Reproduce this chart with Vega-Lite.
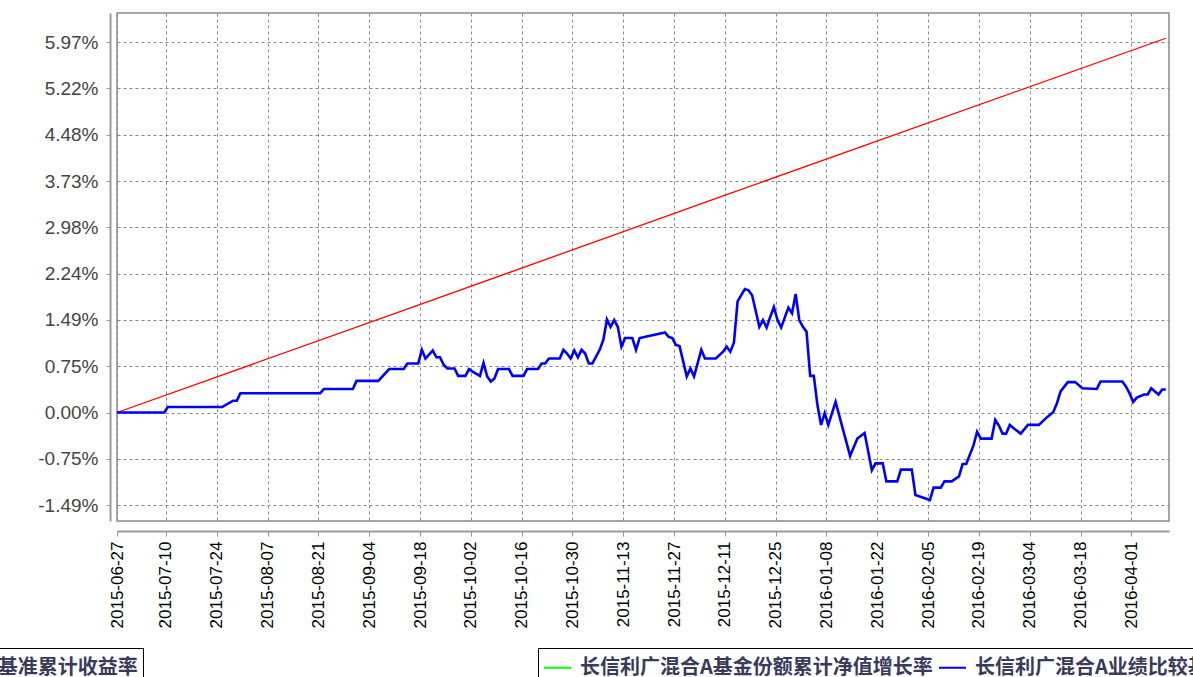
{
  "$schema": "https://vega.github.io/schema/vega-lite/v6.json",
  "autosize": "none",
  "width": 1052,
  "height": 508,
  "padding": {"left": 117, "top": 13, "right": 24, "bottom": 156},
  "background": "#ffffff",
  "data": {"values": [
    {"date": "2015-06-27", "series": "长信利广混合A基金份额累计净值增长率", "value": 0},
    {"date": "2015-07-10", "series": "长信利广混合A基金份额累计净值增长率", "value": 0},
    {"date": "2015-07-11", "series": "长信利广混合A基金份额累计净值增长率", "value": 0.0009},
    {"date": "2015-07-26", "series": "长信利广混合A基金份额累计净值增长率", "value": 0.0009},
    {"date": "2015-07-29", "series": "长信利广混合A基金份额累计净值增长率", "value": 0.0019},
    {"date": "2015-07-30", "series": "长信利广混合A基金份额累计净值增长率", "value": 0.0019},
    {"date": "2015-07-31", "series": "长信利广混合A基金份额累计净值增长率", "value": 0.0031},
    {"date": "2015-08-22", "series": "长信利广混合A基金份额累计净值增长率", "value": 0.0031},
    {"date": "2015-08-23", "series": "长信利广混合A基金份额累计净值增长率", "value": 0.0038},
    {"date": "2015-08-31", "series": "长信利广混合A基金份额累计净值增长率", "value": 0.0038},
    {"date": "2015-09-01", "series": "长信利广混合A基金份额累计净值增长率", "value": 0.0051},
    {"date": "2015-09-07", "series": "长信利广混合A基金份额累计净值增长率", "value": 0.0051},
    {"date": "2015-09-10", "series": "长信利广混合A基金份额累计净值增长率", "value": 0.0070},
    {"date": "2015-09-14", "series": "长信利广混合A基金份额累计净值增长率", "value": 0.0070},
    {"date": "2015-09-15", "series": "长信利广混合A基金份额累计净值增长率", "value": 0.0079},
    {"date": "2015-09-18", "series": "长信利广混合A基金份额累计净值增长率", "value": 0.0079},
    {"date": "2015-09-19", "series": "长信利广混合A基金份额累计净值增长率", "value": 0.0101},
    {"date": "2015-09-20", "series": "长信利广混合A基金份额累计净值增长率", "value": 0.0087},
    {"date": "2015-09-22", "series": "长信利广混合A基金份额累计净值增长率", "value": 0.0100},
    {"date": "2015-09-23", "series": "长信利广混合A基金份额累计净值增长率", "value": 0.0089},
    {"date": "2015-09-24", "series": "长信利广混合A基金份额累计净值增长率", "value": 0.0089},
    {"date": "2015-09-25", "series": "长信利广混合A基金份额累计净值增长率", "value": 0.0077},
    {"date": "2015-09-26", "series": "长信利广混合A基金份额累计净值增长率", "value": 0.0071},
    {"date": "2015-09-28", "series": "长信利广混合A基金份额累计净值增长率", "value": 0.0071},
    {"date": "2015-09-29", "series": "长信利广混合A基金份额累计净值增长率", "value": 0.0059},
    {"date": "2015-10-01", "series": "长信利广混合A基金份额累计净值增长率", "value": 0.0059},
    {"date": "2015-10-02", "series": "长信利广混合A基金份额累计净值增长率", "value": 0.0070},
    {"date": "2015-10-03", "series": "长信利广混合A基金份额累计净值增长率", "value": 0.0066},
    {"date": "2015-10-05", "series": "长信利广混合A基金份额累计净值增长率", "value": 0.0059},
    {"date": "2015-10-06", "series": "长信利广混合A基金份额累计净值增长率", "value": 0.0080},
    {"date": "2015-10-07", "series": "长信利广混合A基金份额累计净值增长率", "value": 0.0058},
    {"date": "2015-10-08", "series": "长信利广混合A基金份额累计净值增长率", "value": 0.0050},
    {"date": "2015-10-09", "series": "长信利广混合A基金份额累计净值增长率", "value": 0.0055},
    {"date": "2015-10-10", "series": "长信利广混合A基金份额累计净值增长率", "value": 0.0070},
    {"date": "2015-10-13", "series": "长信利广混合A基金份额累计净值增长率", "value": 0.0070},
    {"date": "2015-10-14", "series": "长信利广混合A基金份额累计净值增长率", "value": 0.0059},
    {"date": "2015-10-17", "series": "长信利广混合A基金份额累计净值增长率", "value": 0.0059},
    {"date": "2015-10-18", "series": "长信利广混合A基金份额累计净值增长率", "value": 0.0070},
    {"date": "2015-10-21", "series": "长信利广混合A基金份额累计净值增长率", "value": 0.0070},
    {"date": "2015-10-22", "series": "长信利广混合A基金份额累计净值增长率", "value": 0.0079},
    {"date": "2015-10-23", "series": "长信利广混合A基金份额累计净值增长率", "value": 0.0079},
    {"date": "2015-10-24", "series": "长信利广混合A基金份额累计净值增长率", "value": 0.0087},
    {"date": "2015-10-27", "series": "长信利广混合A基金份额累计净值增长率", "value": 0.0087},
    {"date": "2015-10-28", "series": "长信利广混合A基金份额累计净值增长率", "value": 0.0101},
    {"date": "2015-10-29", "series": "长信利广混合A基金份额累计净值增长率", "value": 0.0095},
    {"date": "2015-10-30", "series": "长信利广混合A基金份额累计净值增长率", "value": 0.0087},
    {"date": "2015-10-31", "series": "长信利广混合A基金份额累计净值增长率", "value": 0.0100},
    {"date": "2015-11-01", "series": "长信利广混合A基金份额累计净值增长率", "value": 0.0089},
    {"date": "2015-11-02", "series": "长信利广混合A基金份额累计净值增长率", "value": 0.0101},
    {"date": "2015-11-03", "series": "长信利广混合A基金份额累计净值增长率", "value": 0.0095},
    {"date": "2015-11-04", "series": "长信利广混合A基金份额累计净值增长率", "value": 0.0079},
    {"date": "2015-11-05", "series": "长信利广混合A基金份额累计净值增长率", "value": 0.0079},
    {"date": "2015-11-07", "series": "长信利广混合A基金份额累计净值增长率", "value": 0.0101},
    {"date": "2015-11-08", "series": "长信利广混合A基金份额累计净值增长率", "value": 0.0117},
    {"date": "2015-11-09", "series": "长信利广混合A基金份额累计净值增长率", "value": 0.0150},
    {"date": "2015-11-10", "series": "长信利广混合A基金份额累计净值增长率", "value": 0.0138},
    {"date": "2015-11-11", "series": "长信利广混合A基金份额累计净值增长率", "value": 0.0149},
    {"date": "2015-11-12", "series": "长信利广混合A基金份额累计净值增长率", "value": 0.0138},
    {"date": "2015-11-13", "series": "长信利广混合A基金份额累计净值增长率", "value": 0.0106},
    {"date": "2015-11-14", "series": "长信利广混合A基金份额累计净值增长率", "value": 0.0120},
    {"date": "2015-11-16", "series": "长信利广混合A基金份额累计净值增长率", "value": 0.0120},
    {"date": "2015-11-17", "series": "长信利广混合A基金份额累计净值增长率", "value": 0.0101},
    {"date": "2015-11-18", "series": "长信利广混合A基金份额累计净值增长率", "value": 0.0120},
    {"date": "2015-11-25", "series": "长信利广混合A基金份额累计净值增长率", "value": 0.0129},
    {"date": "2015-11-26", "series": "长信利广混合A基金份额累计净值增长率", "value": 0.0122},
    {"date": "2015-11-27", "series": "长信利广混合A基金份额累计净值增长率", "value": 0.0120},
    {"date": "2015-11-28", "series": "长信利广混合A基金份额累计净值增长率", "value": 0.0109},
    {"date": "2015-11-29", "series": "长信利广混合A基金份额累计净值增长率", "value": 0.0107},
    {"date": "2015-12-01", "series": "长信利广混合A基金份额累计净值增长率", "value": 0.0058},
    {"date": "2015-12-02", "series": "长信利广混合A基金份额累计净值增长率", "value": 0.0071},
    {"date": "2015-12-03", "series": "长信利广混合A基金份额累计净值增长率", "value": 0.0058},
    {"date": "2015-12-05", "series": "长信利广混合A基金份额累计净值增长率", "value": 0.0101},
    {"date": "2015-12-06", "series": "长信利广混合A基金份额累计净值增长率", "value": 0.0087},
    {"date": "2015-12-09", "series": "长信利广混合A基金份额累计净值增长率", "value": 0.0087},
    {"date": "2015-12-11", "series": "长信利广混合A基金份额累计净值增长率", "value": 0.0098},
    {"date": "2015-12-12", "series": "长信利广混合A基金份额累计净值增长率", "value": 0.0106},
    {"date": "2015-12-13", "series": "长信利广混合A基金份额累计净值增长率", "value": 0.0098},
    {"date": "2015-12-14", "series": "长信利广混合A基金份额累计净值增长率", "value": 0.0113},
    {"date": "2015-12-15", "series": "长信利广混合A基金份额累计净值增长率", "value": 0.0179},
    {"date": "2015-12-16", "series": "长信利广混合A基金份额累计净值增长率", "value": 0.0189},
    {"date": "2015-12-17", "series": "长信利广混合A基金份额累计净值增长率", "value": 0.0199},
    {"date": "2015-12-18", "series": "长信利广混合A基金份额累计净值增长率", "value": 0.0197},
    {"date": "2015-12-19", "series": "长信利广混合A基金份额累计净值增长率", "value": 0.0189},
    {"date": "2015-12-21", "series": "长信利广混合A基金份额累计净值增长率", "value": 0.0138},
    {"date": "2015-12-22", "series": "长信利广混合A基金份额累计净值增长率", "value": 0.0149},
    {"date": "2015-12-23", "series": "长信利广混合A基金份额累计净值增长率", "value": 0.0137},
    {"date": "2015-12-24", "series": "长信利广混合A基金份额累计净值增长率", "value": 0.0154},
    {"date": "2015-12-25", "series": "长信利广混合A基金份额累计净值增长率", "value": 0.0170},
    {"date": "2015-12-26", "series": "长信利广混合A基金份额累计净值增长率", "value": 0.0149},
    {"date": "2015-12-27", "series": "长信利广混合A基金份额累计净值增长率", "value": 0.0137},
    {"date": "2015-12-29", "series": "长信利广混合A基金份额累计净值增长率", "value": 0.0169},
    {"date": "2015-12-30", "series": "长信利广混合A基金份额累计净值增长率", "value": 0.0160},
    {"date": "2015-12-31", "series": "长信利广混合A基金份额累计净值增长率", "value": 0.0191},
    {"date": "2016-01-01", "series": "长信利广混合A基金份额累计净值增长率", "value": 0.0149},
    {"date": "2016-01-02", "series": "长信利广混合A基金份额累计净值增长率", "value": 0.0138},
    {"date": "2016-01-03", "series": "长信利广混合A基金份额累计净值增长率", "value": 0.0130},
    {"date": "2016-01-04", "series": "长信利广混合A基金份额累计净值增长率", "value": 0.0059},
    {"date": "2016-01-05", "series": "长信利广混合A基金份额累计净值增长率", "value": 0.0059},
    {"date": "2016-01-06", "series": "长信利广混合A基金份额累计净值增长率", "value": 0.0012},
    {"date": "2016-01-07", "series": "长信利广混合A基金份额累计净值增长率", "value": -0.0020},
    {"date": "2016-01-08", "series": "长信利广混合A基金份额累计净值增长率", "value": -0.0001},
    {"date": "2016-01-09", "series": "长信利广混合A基金份额累计净值增长率", "value": -0.0020},
    {"date": "2016-01-11", "series": "长信利广混合A基金份额累计净值增长率", "value": 0.0017},
    {"date": "2016-01-15", "series": "长信利广混合A基金份额累计净值增长率", "value": -0.0070},
    {"date": "2016-01-17", "series": "长信利广混合A基金份额累计净值增长率", "value": -0.0042},
    {"date": "2016-01-19", "series": "长信利广混合A基金份额累计净值增长率", "value": -0.0033},
    {"date": "2016-01-21", "series": "长信利广混合A基金份额累计净值增长率", "value": -0.0093},
    {"date": "2016-01-22", "series": "长信利广混合A基金份额累计净值增长率", "value": -0.0082},
    {"date": "2016-01-24", "series": "长信利广混合A基金份额累计净值增长率", "value": -0.0082},
    {"date": "2016-01-25", "series": "长信利广混合A基金份额累计净值增长率", "value": -0.0111},
    {"date": "2016-01-28", "series": "长信利广混合A基金份额累计净值增长率", "value": -0.0111},
    {"date": "2016-01-29", "series": "长信利广混合A基金份额累计净值增长率", "value": -0.0092},
    {"date": "2016-02-01", "series": "长信利广混合A基金份额累计净值增长率", "value": -0.0092},
    {"date": "2016-02-02", "series": "长信利广混合A基金份额累计净值增长率", "value": -0.0133},
    {"date": "2016-02-06", "series": "长信利广混合A基金份额累计净值增长率", "value": -0.0141},
    {"date": "2016-02-07", "series": "长信利广混合A基金份额累计净值增长率", "value": -0.0121},
    {"date": "2016-02-09", "series": "长信利广混合A基金份额累计净值增长率", "value": -0.0121},
    {"date": "2016-02-10", "series": "长信利广混合A基金份额累计净值增长率", "value": -0.0111},
    {"date": "2016-02-12", "series": "长信利广混合A基金份额累计净值增长率", "value": -0.0111},
    {"date": "2016-02-14", "series": "长信利广混合A基金份额累计净值增长率", "value": -0.0103},
    {"date": "2016-02-15", "series": "长信利广混合A基金份额累计净值增长率", "value": -0.0083},
    {"date": "2016-02-16", "series": "长信利广混合A基金份额累计净值增长率", "value": -0.0083},
    {"date": "2016-02-18", "series": "长信利广混合A基金份额累计净值增长率", "value": -0.0053},
    {"date": "2016-02-19", "series": "长信利广混合A基金份额累计净值增长率", "value": -0.0031},
    {"date": "2016-02-20", "series": "长信利广混合A基金份额累计净值增长率", "value": -0.0042},
    {"date": "2016-02-23", "series": "长信利广混合A基金份额累计净值增长率", "value": -0.0042},
    {"date": "2016-02-24", "series": "长信利广混合A基金份额累计净值增长率", "value": -0.0012},
    {"date": "2016-02-25", "series": "长信利广混合A基金份额累计净值增长率", "value": -0.0021},
    {"date": "2016-02-26", "series": "长信利广混合A基金份额累计净值增长率", "value": -0.0034},
    {"date": "2016-02-27", "series": "长信利广混合A基金份额累计净值增长率", "value": -0.0034},
    {"date": "2016-02-28", "series": "长信利广混合A基金份额累计净值增长率", "value": -0.0020},
    {"date": "2016-02-29", "series": "长信利广混合A基金份额累计净值增长率", "value": -0.0025},
    {"date": "2016-03-02", "series": "长信利广混合A基金份额累计净值增长率", "value": -0.0034},
    {"date": "2016-03-04", "series": "长信利广混合A基金份额累计净值增长率", "value": -0.0020},
    {"date": "2016-03-07", "series": "长信利广混合A基金份额累计净值增长率", "value": -0.0020},
    {"date": "2016-03-09", "series": "长信利广混合A基金份额累计净值增长率", "value": -0.0009},
    {"date": "2016-03-11", "series": "长信利广混合A基金份额累计净值增长率", "value": 0.0001},
    {"date": "2016-03-12", "series": "长信利广混合A基金份额累计净值增长率", "value": 0.0015},
    {"date": "2016-03-13", "series": "长信利广混合A基金份额累计净值增长率", "value": 0.0034},
    {"date": "2016-03-15", "series": "长信利广混合A基金份额累计净值增长率", "value": 0.0049},
    {"date": "2016-03-17", "series": "长信利广混合A基金份额累计净值增长率", "value": 0.0049},
    {"date": "2016-03-19", "series": "长信利广混合A基金份额累计净值增长率", "value": 0.0039},
    {"date": "2016-03-23", "series": "长信利广混合A基金份额累计净值增长率", "value": 0.0038},
    {"date": "2016-03-24", "series": "长信利广混合A基金份额累计净值增长率", "value": 0.0050},
    {"date": "2016-03-30", "series": "长信利广混合A基金份额累计净值增长率", "value": 0.0050},
    {"date": "2016-03-31", "series": "长信利广混合A基金份额累计净值增长率", "value": 0.0042},
    {"date": "2016-04-01", "series": "长信利广混合A基金份额累计净值增长率", "value": 0.0031},
    {"date": "2016-04-02", "series": "长信利广混合A基金份额累计净值增长率", "value": 0.0017},
    {"date": "2016-04-03", "series": "长信利广混合A基金份额累计净值增长率", "value": 0.0024},
    {"date": "2016-04-05", "series": "长信利广混合A基金份额累计净值增长率", "value": 0.0029},
    {"date": "2016-04-06", "series": "长信利广混合A基金份额累计净值增长率", "value": 0.0029},
    {"date": "2016-04-07", "series": "长信利广混合A基金份额累计净值增长率", "value": 0.0039},
    {"date": "2016-04-08", "series": "长信利广混合A基金份额累计净值增长率", "value": 0.0034},
    {"date": "2016-04-09", "series": "长信利广混合A基金份额累计净值增长率", "value": 0.0029},
    {"date": "2016-04-10", "series": "长信利广混合A基金份额累计净值增长率", "value": 0.0037},
    {"date": "2016-04-11", "series": "长信利广混合A基金份额累计净值增长率", "value": 0.0037},
    {"date": "2015-06-27", "series": "长信利广混合A业绩比较基准累计收益率", "value": 0},
    {"date": "2015-09-18", "series": "长信利广混合A业绩比较基准累计收益率", "value": 0.0173},
    {"date": "2015-12-11", "series": "长信利广混合A业绩比较基准累计收益率", "value": 0.0349},
    {"date": "2016-04-11", "series": "长信利广混合A业绩比较基准累计收益率", "value": 0.0603}
  ]},
  "encoding": {
    "x": {
      "field": "date", "type": "temporal", "title": null,
      "scale": {"type": "utc", "nice": false, "domain": [
        {"year": 2015, "month": 6, "date": 27, "utc": true},
        {"year": 2016, "month": 4, "date": 11, "hours": 21, "utc": true}
      ]},
      "axis": {
        "orient": "bottom", "offset": 10, "format": "%Y-%m-%d", "labelAngle": 270,
        "labelFontSize": 17, "labelColor": "#000000", "labelPadding": 5, "tickSize": 5,
        "domainWidth": 2, "labelOverlap": false, "labelFlush": false,
        "values": [
          {"year": 2015, "month": 6, "date": 27, "utc": true},
          {"year": 2015, "month": 7, "date": 10, "hours": 12, "utc": true},
          {"year": 2015, "month": 7, "date": 24, "hours": 12, "utc": true},
          {"year": 2015, "month": 8, "date": 7, "hours": 12, "utc": true},
          {"year": 2015, "month": 8, "date": 21, "hours": 12, "utc": true},
          {"year": 2015, "month": 9, "date": 4, "hours": 12, "utc": true},
          {"year": 2015, "month": 9, "date": 18, "hours": 12, "utc": true},
          {"year": 2015, "month": 10, "date": 2, "hours": 12, "utc": true},
          {"year": 2015, "month": 10, "date": 16, "hours": 12, "utc": true},
          {"year": 2015, "month": 10, "date": 30, "hours": 12, "utc": true},
          {"year": 2015, "month": 11, "date": 13, "hours": 12, "utc": true},
          {"year": 2015, "month": 11, "date": 27, "hours": 12, "utc": true},
          {"year": 2015, "month": 12, "date": 11, "hours": 12, "utc": true},
          {"year": 2015, "month": 12, "date": 25, "hours": 12, "utc": true},
          {"year": 2016, "month": 1, "date": 8, "hours": 12, "utc": true},
          {"year": 2016, "month": 1, "date": 22, "hours": 12, "utc": true},
          {"year": 2016, "month": 2, "date": 5, "hours": 12, "utc": true},
          {"year": 2016, "month": 2, "date": 19, "hours": 12, "utc": true},
          {"year": 2016, "month": 3, "date": 4, "hours": 12, "utc": true},
          {"year": 2016, "month": 3, "date": 18, "hours": 12, "utc": true},
          {"year": 2016, "month": 4, "date": 1, "hours": 12, "utc": true}
        ]
      }
    },
    "y": {
      "field": "value", "type": "quantitative", "title": null,
      "scale": {"domain": [-0.01748, 0.06437], "nice": false, "zero": false},
      "axis": {
        "offset": 7, "values": [-0.01492, -0.00746, 0, 0.00746, 0.01492, 0.02238, 0.02984, 0.0373, 0.04476, 0.05222, 0.05968],
        "labelExpr": "replace(format(datum.value, '.2%'), '−', '-')",
        "labelFontSize": 19, "labelColor": "#444444", "labelPadding": 8, "tickSize": 4, "domainWidth": 2
      }
    }
  },
  "layer": [
    {
      "transform": [{"filter": {"field": "series", "equal": "长信利广混合A业绩比较基准累计收益率"}}],
      "mark": {"type": "line", "strokeWidth": 1.3, "interpolate": "linear"},
      "encoding": {
        "stroke": {
          "field": "series", "type": "nominal", "title": null,
          "scale": {"domain": ["长信利广混合A业绩比较基准累计收益率", "长信利广混合A基金份额累计净值增长率"], "range": ["#ff0000", "#0000ff"]},
          "legend": {"orient": "none", "legendX": -374, "legendY": 635, "values": ["长信利广混合A业绩比较基准累计收益率"], "direction": "horizontal"}
        }
      }
    },
    {
      "transform": [{"filter": {"field": "series", "equal": "长信利广混合A基金份额累计净值增长率"}}],
      "mark": {"type": "line", "strokeWidth": 2.6, "interpolate": "linear"},
      "encoding": {
        "stroke": {"field": "series", "type": "nominal", "title": null}
      }
    },
    {
      "transform": [{"filter": "false"}],
      "mark": {"type": "line", "strokeWidth": 2},
      "encoding": {
        "color": {
          "field": "series", "type": "nominal", "title": null,
          "scale": {"domain": ["长信利广混合A基金份额累计净值增长率", "长信利广混合A业绩比较基准累计收益率"], "range": ["#00ff00", "#0000ff"]},
          "legend": {"orient": "none", "legendX": 421, "legendY": 635, "direction": "horizontal"}
        }
      }
    }
  ],
  "config": {
    "font": "Liberation Sans",
    "view": {"stroke": "#8a8a8a", "strokeWidth": 1.5},
    "axis": {
      "labelFont": "Liberation Sans", "domainColor": "#9a9a9a", "tickColor": "#9a9a9a",
      "grid": true, "gridColor": "#8a8a8a", "gridDash": [3, 3], "gridWidth": 1, "gridOpacity": 1
    },
    "legend": {
      "labelFont": "Noto Sans CJK SC", "labelFontSize": 20, "labelFontWeight": "bold", "labelColor": "#3a3a5a",
      "labelLimit": 800, "symbolType": "stroke", "symbolSize": 729, "symbolStrokeWidth": 2,
      "padding": 5, "strokeColor": "#000000", "fillColor": "#ffffff", "columnPadding": 2,
      "labelOffset": 8, "cornerRadius": 0
    }
  }
}
